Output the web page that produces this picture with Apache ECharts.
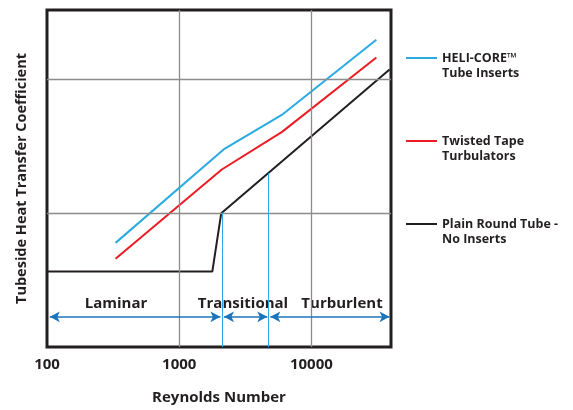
<!DOCTYPE html>
<html><head><meta charset="utf-8">
<script src="https://cdn.jsdelivr.net/npm/echarts@6/dist/echarts.min.js"></script>
<style>html,body{margin:0;padding:0;background:#fff}#c{width:573px;height:410px}</style>
</head><body><div id="c"></div>
<script>
// ---- data (Reynolds number, relative heat-transfer coefficient) ----
const reTicks = [100, 1000, 10000];
const gridRe = [1000, 10000];
const gridH = [100, 1000];
const heliCore = [[330, 60], [2200, 303], [6100, 551], [31000, 1978]];
const twistedTape = [[330, 45.6], [2100, 212], [6000, 405], [31000, 1456]];
const plainTube = [[100, 36.6], [1780, 36.6], [2080, 100], [39000, 1186]];
const transitionBounds = [[2100, 100], [4750, 198]];
const regionArrows = [[105, 2050], [2180, 4640], [4890, 39000]];
const arrowLevel = 16.8;
const regionNames = ['Laminar', 'Transitional', 'Turburlent'];
const seriesNames = ['HELI-CORE™ Tube Inserts', 'Twisted Tape Turbulators', 'Plain Round Tube - No Inserts'];
const legendLines = [['HELI-CORE™', 'Tube Inserts'], ['Twisted Tape', 'Turbulators'], ['Plain Round Tube -', 'No Inserts']];

const FONT = "'Open Sans', 'Liberation Sans', sans-serif";
const INK = '#231F20';
const chart = echarts.init(document.getElementById('c'), null, {renderer: 'canvas'});

const regionX = [116, 243, 342];
const legendTop = [51, 134, 217];

const option = {
  animation: false,
  backgroundColor: '#fff',
  grid: {left: 47, right: 182, top: 10, bottom: 60, show: true, borderColor: INK, borderWidth: 3, backgroundColor: 'transparent'},
  xAxis: {
    type: 'log', logBase: 10, min: 100, max: 40000,
    name: 'Reynolds Number', nameLocation: 'middle', nameGap: 43,
    nameTextStyle: {fontFamily: FONT, fontWeight: 'bold', fontSize: 15, color: INK},
    axisLine: {show: false}, axisTick: {show: false}, splitLine: {show: false},
    axisLabel: {
      margin: 10, fontFamily: FONT, fontWeight: 'bold', fontSize: 15, color: INK,
      formatter: v => reTicks.includes(Math.round(v)) ? String(Math.round(v)) : ''
    }
  },
  yAxis: {
    type: 'log', logBase: 10, min: 10, max: 3300,
    name: 'Tubeside Heat Transfer Coefficient', nameLocation: 'middle', nameGap: 18,
    nameTextStyle: {fontFamily: FONT, fontWeight: 'bold', fontSize: 14.5, color: INK},
    axisLine: {show: false}, axisTick: {show: false}, splitLine: {show: false},
    axisLabel: {show: false}
  },
  legend: {
    orient: 'vertical', left: 401, top: 46, padding: 5, itemWidth: 31, itemHeight: 14, itemGap: 69,
    icon: 'path://M0,6 L31,6 L31,8 L0,8 Z',
    data: seriesNames,
    formatter: n => legendLines[seriesNames.indexOf(n)][0],
    textStyle: {fontFamily: FONT, fontWeight: 'bold', fontSize: 12.5, color: INK, lineHeight: 14}
  },
  graphic: [
    ...legendLines.map((l, i) => ({type: 'text', left: 442, top: legendTop[i] + 16,
      style: {text: l[1], font: `bold 12.5px ${FONT}`, fill: INK}})),
    ...regionNames.map((t, i) => ({type: 'text', x: regionX[i], y: 304,
      style: {text: t, font: `bold 15px ${FONT}`, fill: INK, align: 'center', verticalAlign: 'middle'}}))
  ],
  series: [
    {
      type: 'line', name: '_grid', data: [], z: 1, silent: true,
      markLine: {
        silent: true, symbol: 'none', label: {show: false}, animation: false,
        lineStyle: {color: '#8C8C8C', width: 1.3, type: 'solid'},
        data: [...gridRe.map(v => ({xAxis: v})), ...gridH.map(v => ({yAxis: v}))]
      }
    },
    {
      type: 'line', name: '_bounds', data: [], z: 2, silent: true,
      markLine: {
        silent: true, symbol: 'none', label: {show: false}, animation: false,
        lineStyle: {color: '#29ABE2', width: 1, type: 'solid'},
        data: transitionBounds.map(([re, h]) => [{coord: [re, 10]}, {coord: [re, h]}])
      }
    },
    {
      type: 'line', name: '_arrows', data: [], z: 2, silent: true,
      markLine: {
        silent: true, symbol: ['arrow', 'arrow'], symbolSize: [8, 10], label: {show: false}, animation: false,
        lineStyle: {color: '#1C75BC', width: 1.5, type: 'solid'},
        itemStyle: {color: '#1C75BC'},
        data: regionArrows.map(([a, b]) => [{coord: [a, arrowLevel]}, {coord: [b, arrowLevel]}])
      }
    },
    {type: 'line', name: seriesNames[0], data: heliCore, showSymbol: false, symbol: 'none', z: 4,
      color: '#29ABE2', lineStyle: {color: '#29ABE2', width: 2}},
    {type: 'line', name: seriesNames[1], data: twistedTape, showSymbol: false, symbol: 'none', z: 4,
      color: '#ED1C24', lineStyle: {color: '#ED1C24', width: 2}},
    {type: 'line', name: seriesNames[2], data: plainTube, showSymbol: false, symbol: 'none', z: 4,
      color: INK, lineStyle: {color: INK, width: 2}}
  ]
};
chart.setOption(option);
</script>
</body></html>
